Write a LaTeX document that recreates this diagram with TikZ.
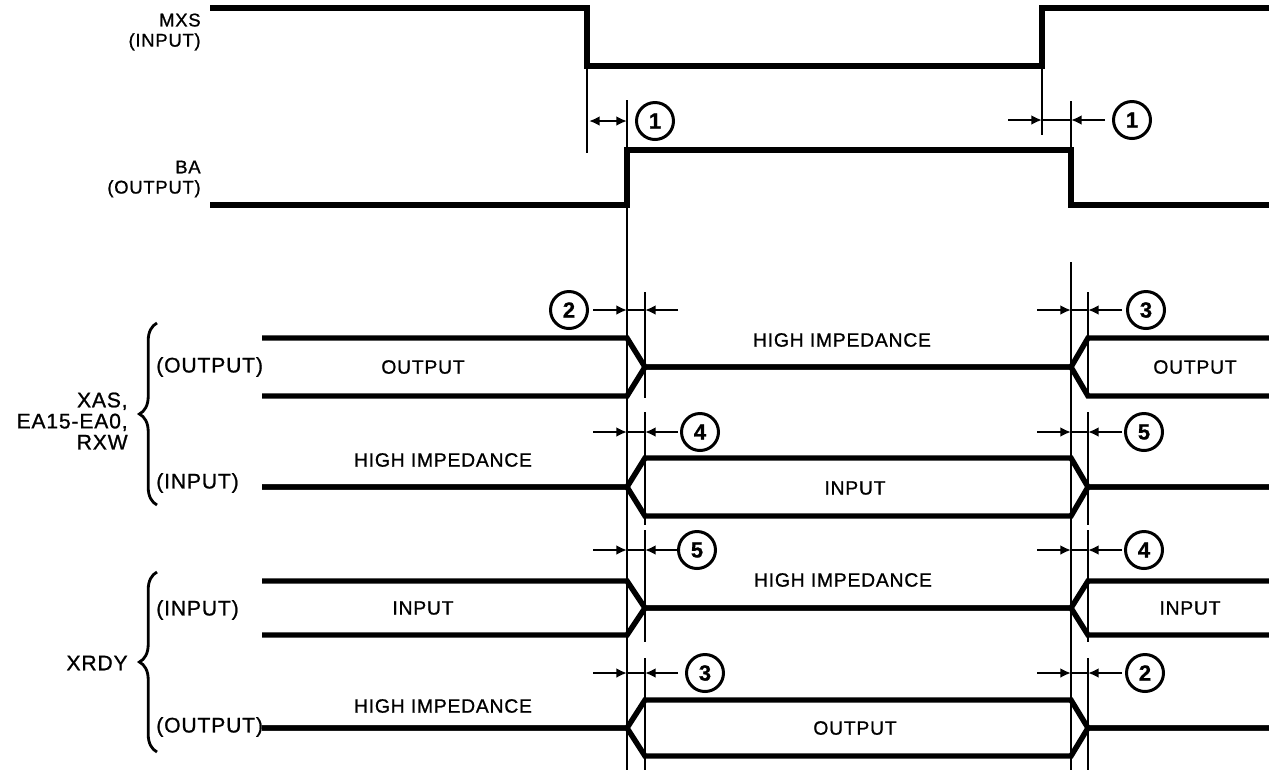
\documentclass[tikz,border=0pt]{standalone}
\usepackage{fontspec}
\setmainfont{Liberation Sans}[LetterSpace=4, FakeBold=1]
\usetikzlibrary{arrows.meta, decorations.pathreplacing, positioning}

\begin{document}
\begin{tikzpicture}[x=0.02cm, y=-0.02cm,
  sig/.style={line width=3.1pt},
  ref/.style={line width=1.6pt},
  dim/.style={line width=1.3pt},
  tip/.style={-{Latex[length=6pt,width=5.5pt]}},
  num/.style={circle, draw, line width=1.7pt, minimum size=0.74cm, inner sep=0pt, font=\fontsize{12.5}{14}\selectfont\bfseries},
  lab/.style={inner sep=0pt, align=right, font=\fontsize{10.5}{11.5}\selectfont},
  grp/.style={inner sep=0pt, align=right, font=\fontsize{12}{12}\selectfont},
  txt/.style={inner sep=0pt, font=\fontsize{11}{12}\selectfont},
  brc/.style={line width=1.6pt, decorate, decoration={brace, amplitude=10pt}}]

\useasboundingbox (0,0) rectangle (1269,772);

% Opisy sygnalow
\node[lab, anchor=east] (mxs) at (201,32) {MXS\\(INPUT)};
\node[lab, anchor=east] (ba) at (201,179) {BA\\(OUTPUT)};
\node[grp, anchor=east] (xas) at (128,421) {XAS,\\EA15-EA0,\\RXW};
\node[grp, anchor=east] (xrdy) at (128,663) {XRDY};
\foreach \i/\y/\t in {1/367/(OUTPUT), 2/483/(INPUT), 3/610/(INPUT), 4/727/(OUTPUT)} {
  \node[grp, anchor=west] (dir\i) at (156,\y) {\t};
}
\draw[brc] (157,505) -- (157,323);
\draw[brc] (157,752) -- (157,572);

% MXS i BA
\draw[sig] (210,8) -- (587,8) -- (587,66) -- (1042,66) -- (1042,8) -- (1269,8);
\draw[sig] (210,205) -- (627,205) -- (627,150) -- (1071,150) -- (1071,205) -- (1269,205);

% Linie czasowe
\draw[ref] (587,66) -- (587,153);
\draw[ref] (1042,66) -- (1042,135);
\draw[ref] (627,100) -- (627,770);
\draw[ref] (1071,101) -- (1071,150);
\draw[ref] (1071,262) -- (1071,770);
\foreach \a/\b in {292/398, 412/525, 530/642, 658/770} {
  \draw[ref] (645,\a) -- (645,\b);
  \draw[ref] (1088,\a) -- (1088,\b);
}

% Magistrale: dane - wysoka impedancja - dane
\foreach \m/\d in {367/29, 608/27} {
  \draw[sig] (262,\m-\d) -- (627,\m-\d) -- (645,\m) -- (1071,\m) -- (1088,\m-\d) -- (1269,\m-\d);
  \draw[sig] (262,\m+\d) -- (627,\m+\d) -- (645,\m) -- (1071,\m) -- (1088,\m+\d) -- (1269,\m+\d);
}
% Magistrale: wysoka impedancja - dane - wysoka impedancja
\foreach \m/\d in {487/29, 728/28} {
  \draw[sig] (262,\m) -- (627,\m) -- (645,\m-\d) -- (1071,\m-\d) -- (1088,\m) -- (1269,\m);
  \draw[sig] (262,\m) -- (627,\m) -- (645,\m+\d) -- (1071,\m+\d) -- (1088,\m) -- (1269,\m);
}

% Teksty na przebiegach
\node[txt] (t1) at (423,367) {OUTPUT};
\node[txt] (t2) at (842,340) {HIGH IMPEDANCE};
\node[txt] (t3) at (1195,367) {OUTPUT};
\node[txt] (t4) at (443,460) {HIGH IMPEDANCE};
\node[txt] (t5) at (855,488) {INPUT};
\node[txt] (t6) at (423,608) {INPUT};
\node[txt] (t7) at (843,580) {HIGH IMPEDANCE};
\node[txt] (t8) at (1190,608) {INPUT};
\node[txt] (t9) at (443,706) {HIGH IMPEDANCE};
\node[txt] (t10) at (855,728) {OUTPUT};

% Czas 1
\coordinate (m1) at (589,121);
\coordinate (m2) at (627,121);
\draw[dim, {Latex[length=6pt,width=5.5pt]}-{Latex[length=6pt,width=5.5pt]}] (m1) -- (m2);
\node[num] (c0) at (655,121) {1};
\coordinate (m3) at (1008,120);
\coordinate (m4) at (1042,120);
\coordinate (m5) at (1071,120);
\coordinate (m6) at (1105,120);
\draw[dim] (m4) -- (m5);
\draw[dim, tip] (m3) -- (m4);
\draw[dim, tip] (m6) -- (m5);
\node[num] (c00) at (1132,120) {1};

% Czasy 2-5
\foreach \i/\y/\a/\xa/\b/\xb in {1/310/2/569/3/1146, 2/432/4/700/5/1144, 3/550/5/697/4/1144, 4/673/3/705/2/1145} {
  \coordinate (la\i) at (593,\y);
  \coordinate (lb\i) at (627,\y);
  \coordinate (lc\i) at (645,\y);
  \coordinate (ld\i) at (678,\y);
  \draw[dim] (lb\i) -- (lc\i);
  \draw[dim, tip] (la\i) -- (lb\i);
  \draw[dim, tip] (ld\i) -- (lc\i);
  \coordinate (ra\i) at (1037,\y);
  \coordinate (rb\i) at (1071,\y);
  \coordinate (rc\i) at (1088,\y);
  \coordinate (rd\i) at (1122,\y);
  \draw[dim] (rb\i) -- (rc\i);
  \draw[dim, tip] (ra\i) -- (rb\i);
  \draw[dim, tip] (rd\i) -- (rc\i);
  \node[num] (cl\i) at (\xa,\y) {\a};
  \node[num] (cr\i) at (\xb,\y) {\b};
}
\end{tikzpicture}
\end{document}
